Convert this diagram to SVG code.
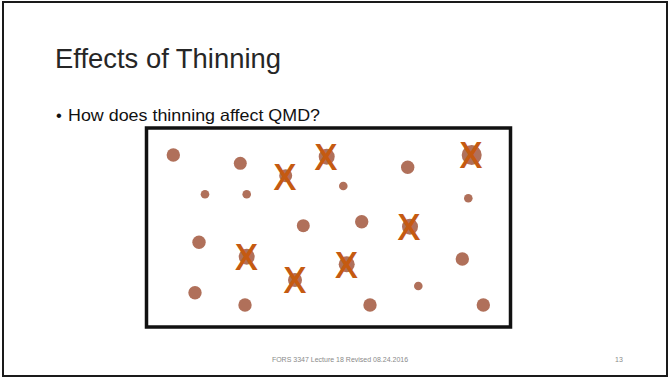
<svg xmlns="http://www.w3.org/2000/svg" width="670" height="378" viewBox="0 0 670 378">
  <style>
    .frame { fill: #ffffff; stroke: #1a1a1a; stroke-width: 2; }
    .plot { fill: none; stroke: #111111; stroke-width: 3.5; }
    .tree { fill: #b0705a; }
    .cut { fill: #c55a11; font-family: "Open Sans", "Liberation Sans", sans-serif; font-size: 36px; font-weight: 600; text-anchor: middle; }
    .title { fill: #262626; font-family: "Liberation Sans", sans-serif; font-size: 28px; }
    .body { fill: #111111; font-family: "Liberation Sans", sans-serif; font-size: 16.5px; }
    .foot { fill: #8a8a8a; font-family: "Liberation Sans", sans-serif; font-size: 7px; }
  </style>

  <!-- slide -->
  <rect class="frame" x="3" y="2" width="664" height="374"/>
  <text class="title" x="55" y="68" textLength="226" lengthAdjust="spacingAndGlyphs">Effects of Thinning</text>
  <text class="body" x="56" y="121">•</text>
  <text class="body" x="68" y="121" textLength="252" lengthAdjust="spacingAndGlyphs">How does thinning affect QMD?</text>

  <!-- stand plot -->
  <g id="plot">
    <rect class="plot" x="146.5" y="128" width="364" height="199"/>
  </g>

  <!-- trees left standing -->
  <g id="trees">
    <circle class="tree" cx="173.3" cy="155" r="6.7"/>
    <circle class="tree" cx="240.3" cy="163.3" r="6.5"/>
    <circle class="tree" cx="205" cy="194.3" r="4.3"/>
    <circle class="tree" cx="246.7" cy="194.3" r="4.3"/>
    <circle class="tree" cx="303.3" cy="225.7" r="6.5"/>
    <circle class="tree" cx="407.7" cy="167.3" r="6.7"/>
    <circle class="tree" cx="343.3" cy="186" r="4.3"/>
    <circle class="tree" cx="468.3" cy="198.3" r="4.3"/>
    <circle class="tree" cx="361.7" cy="221.7" r="6.7"/>
    <circle class="tree" cx="199" cy="242.3" r="6.7"/>
    <circle class="tree" cx="195" cy="292.7" r="6.7"/>
    <circle class="tree" cx="245" cy="305" r="6.7"/>
    <circle class="tree" cx="462.3" cy="259" r="6.7"/>
    <circle class="tree" cx="418.3" cy="286" r="4.3"/>
    <circle class="tree" cx="370" cy="305" r="6.7"/>
    <circle class="tree" cx="483.3" cy="305" r="6.7"/>
  </g>

  <!-- trees removed in the thinning -->
  <g id="removed">
    <circle class="tree" cx="285.7" cy="175.7" r="6.5"/>
    <text class="cut" x="285" y="189.5">X</text>
    <circle class="tree" cx="326.7" cy="156.7" r="8"/>
    <text class="cut" x="326" y="169.5">X</text>
    <circle class="tree" cx="471.7" cy="155" r="10"/>
    <text class="cut" x="471" y="168">X</text>
    <circle class="tree" cx="410" cy="226.7" r="8"/>
    <text class="cut" x="409" y="239.5">X</text>
    <circle class="tree" cx="246.7" cy="256.7" r="8"/>
    <text class="cut" x="246.5" y="270">X</text>
    <circle class="tree" cx="295" cy="280" r="7"/>
    <text class="cut" x="295" y="293">X</text>
    <circle class="tree" cx="346.7" cy="264.3" r="8"/>
    <text class="cut" x="346.5" y="277.5">X</text>
  </g>

  <!-- footer -->
  <text class="foot" x="340" y="362" text-anchor="middle">FORS 3347 Lecture 18 Revised 08.24.2016</text>
  <text class="foot" x="619" y="362" text-anchor="middle">13</text>
</svg>
